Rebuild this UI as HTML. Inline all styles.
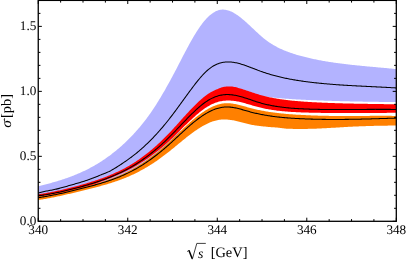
<!DOCTYPE html>
<html><head><meta charset="utf-8"><title>plot</title>
<style>
html,body{margin:0;padding:0;background:#fff;}
body{width:407px;height:262px;overflow:hidden;}
svg{display:block;will-change:transform;text-rendering:geometricPrecision;font-family:"Liberation Serif",serif;fill:#000;}
</style></head><body>
<svg width="407" height="262" viewBox="0 0 407 262">
<rect width="407" height="262" fill="#fff"/>
<path d="M38.25,186.17 L39.25,185.93 L40.25,185.69 L41.25,185.45 L42.25,185.21 L43.25,184.96 L44.25,184.71 L45.25,184.46 L46.25,184.20 L47.25,183.95 L48.25,183.68 L49.25,183.42 L50.25,183.15 L51.25,182.88 L52.25,182.60 L53.25,182.32 L54.25,182.04 L55.25,181.75 L56.25,181.46 L57.25,181.16 L58.25,180.86 L59.25,180.55 L60.25,180.24 L61.25,179.92 L62.25,179.60 L63.25,179.27 L64.25,178.93 L65.25,178.59 L66.25,178.25 L67.25,177.90 L68.25,177.54 L69.25,177.18 L70.25,176.81 L71.25,176.43 L72.25,176.05 L73.25,175.66 L74.25,175.26 L75.25,174.86 L76.25,174.44 L77.25,174.03 L78.25,173.60 L79.25,173.16 L80.25,172.72 L81.25,172.27 L82.25,171.82 L83.25,171.35 L84.25,170.88 L85.25,170.39 L86.25,169.90 L87.25,169.40 L88.25,168.89 L89.25,168.38 L90.25,167.85 L91.25,167.31 L92.25,166.77 L93.25,166.21 L94.25,165.64 L95.25,165.07 L96.25,164.48 L97.25,163.89 L98.25,163.28 L99.25,162.66 L100.25,162.04 L101.25,161.40 L102.25,160.75 L103.25,160.09 L104.25,159.42 L105.25,158.74 L106.25,158.04 L107.25,157.34 L108.25,156.62 L109.25,155.89 L110.25,155.15 L111.25,154.39 L112.25,153.62 L113.25,152.85 L114.25,152.05 L115.25,151.25 L116.25,150.43 L117.25,149.60 L118.25,148.76 L119.25,147.90 L120.25,147.03 L121.25,146.14 L122.25,145.24 L123.25,144.33 L124.25,143.40 L125.25,142.46 L126.25,141.50 L127.25,140.53 L128.25,139.55 L129.25,138.55 L130.25,137.53 L131.25,136.50 L132.25,135.46 L133.25,134.39 L134.25,133.31 L135.25,132.22 L136.25,131.11 L137.25,129.97 L138.25,128.82 L139.25,127.65 L140.25,126.47 L141.25,125.26 L142.25,124.03 L143.25,122.78 L144.25,121.51 L145.25,120.21 L146.25,118.90 L147.25,117.56 L148.25,116.20 L149.25,114.81 L150.25,113.40 L151.25,111.97 L152.25,110.51 L153.25,109.02 L154.25,107.51 L155.25,105.97 L156.25,104.41 L157.25,102.83 L158.25,101.22 L159.25,99.59 L160.25,97.94 L161.25,96.26 L162.25,94.57 L163.25,92.86 L164.25,91.13 L165.25,89.39 L166.25,87.62 L167.25,85.84 L168.25,84.05 L169.25,82.24 L170.25,80.41 L171.25,78.57 L172.25,76.71 L173.25,74.84 L174.25,72.95 L175.25,71.05 L176.25,69.14 L177.25,67.22 L178.25,65.29 L179.25,63.35 L180.25,61.42 L181.25,59.48 L182.25,57.55 L183.25,55.62 L184.25,53.70 L185.25,51.80 L186.25,49.90 L187.25,48.03 L188.25,46.17 L189.25,44.33 L190.25,42.52 L191.25,40.73 L192.25,38.97 L193.25,37.25 L194.25,35.56 L195.25,33.90 L196.25,32.29 L197.25,30.71 L198.25,29.19 L199.25,27.71 L200.25,26.28 L201.25,24.90 L202.25,23.57 L203.25,22.30 L204.25,21.09 L205.25,19.93 L206.25,18.82 L207.25,17.77 L208.25,16.79 L209.25,15.86 L210.25,14.99 L211.25,14.18 L212.25,13.44 L213.25,12.76 L214.25,12.14 L215.25,11.59 L216.25,11.10 L217.25,10.68 L218.25,10.33 L219.25,10.05 L220.25,9.84 L221.25,9.69 L222.25,9.62 L223.25,9.60 L224.25,9.65 L225.25,9.77 L226.25,9.94 L227.25,10.16 L228.25,10.44 L229.25,10.78 L230.25,11.16 L231.25,11.59 L232.25,12.07 L233.25,12.59 L234.25,13.15 L235.25,13.75 L236.25,14.39 L237.25,15.06 L238.25,15.77 L239.25,16.50 L240.25,17.27 L241.25,18.06 L242.25,18.88 L243.25,19.72 L244.25,20.57 L245.25,21.45 L246.25,22.34 L247.25,23.25 L248.25,24.17 L249.25,25.10 L250.25,26.03 L251.25,26.97 L252.25,27.92 L253.25,28.86 L254.25,29.80 L255.25,30.74 L256.25,31.68 L257.25,32.60 L258.25,33.52 L259.25,34.43 L260.25,35.32 L261.25,36.19 L262.25,37.05 L263.25,37.88 L264.25,38.70 L265.25,39.49 L266.25,40.25 L267.25,40.99 L268.25,41.70 L269.25,42.39 L270.25,43.06 L271.25,43.71 L272.25,44.33 L273.25,44.93 L274.25,45.51 L275.25,46.08 L276.25,46.62 L277.25,47.15 L278.25,47.66 L279.25,48.15 L280.25,48.63 L281.25,49.09 L282.25,49.53 L283.25,49.97 L284.25,50.38 L285.25,50.79 L286.25,51.19 L287.25,51.57 L288.25,51.95 L289.25,52.31 L290.25,52.67 L291.25,53.01 L292.25,53.35 L293.25,53.68 L294.25,54.01 L295.25,54.32 L296.25,54.63 L297.25,54.93 L298.25,55.22 L299.25,55.51 L300.25,55.79 L301.25,56.07 L302.25,56.33 L303.25,56.60 L304.25,56.85 L305.25,57.11 L306.25,57.35 L307.25,57.59 L308.25,57.83 L309.25,58.06 L310.25,58.29 L311.25,58.52 L312.25,58.73 L313.25,58.95 L314.25,59.16 L315.25,59.37 L316.25,59.57 L317.25,59.77 L318.25,59.97 L319.25,60.16 L320.25,60.35 L321.25,60.54 L322.25,60.72 L323.25,60.90 L324.25,61.08 L325.25,61.25 L326.25,61.42 L327.25,61.58 L328.25,61.75 L329.25,61.91 L330.25,62.06 L331.25,62.22 L332.25,62.37 L333.25,62.52 L334.25,62.66 L335.25,62.81 L336.25,62.95 L337.25,63.09 L338.25,63.22 L339.25,63.36 L340.25,63.49 L341.25,63.62 L342.25,63.74 L343.25,63.87 L344.25,63.99 L345.25,64.11 L346.25,64.23 L347.25,64.34 L348.25,64.46 L349.25,64.57 L350.25,64.68 L351.25,64.79 L352.25,64.90 L353.25,65.01 L354.25,65.11 L355.25,65.22 L356.25,65.32 L357.25,65.42 L358.25,65.52 L359.25,65.62 L360.25,65.72 L361.25,65.82 L362.25,65.91 L363.25,66.01 L364.25,66.10 L365.25,66.20 L366.25,66.29 L367.25,66.38 L368.25,66.47 L369.25,66.56 L370.25,66.66 L371.25,66.75 L372.25,66.84 L373.25,66.93 L374.25,67.02 L375.25,67.11 L376.25,67.20 L377.25,67.29 L378.25,67.38 L379.25,67.47 L380.25,67.56 L381.25,67.65 L382.25,67.74 L383.25,67.83 L384.25,67.92 L385.25,68.01 L386.25,68.11 L387.25,68.20 L388.25,68.29 L389.25,68.39 L390.25,68.48 L391.25,68.58 L392.25,68.68 L393.25,68.78 L394.25,68.88 L395.25,68.98 L396.30,69.09 L396.30,102.04 L395.25,102.03 L394.25,102.03 L393.25,102.02 L392.25,102.01 L391.25,102.00 L390.25,101.99 L389.25,101.98 L388.25,101.97 L387.25,101.96 L386.25,101.95 L385.25,101.94 L384.25,101.93 L383.25,101.92 L382.25,101.91 L381.25,101.90 L380.25,101.89 L379.25,101.88 L378.25,101.86 L377.25,101.85 L376.25,101.84 L375.25,101.83 L374.25,101.81 L373.25,101.80 L372.25,101.78 L371.25,101.77 L370.25,101.75 L369.25,101.74 L368.25,101.72 L367.25,101.71 L366.25,101.69 L365.25,101.67 L364.25,101.66 L363.25,101.64 L362.25,101.62 L361.25,101.60 L360.25,101.59 L359.25,101.57 L358.25,101.55 L357.25,101.53 L356.25,101.51 L355.25,101.49 L354.25,101.47 L353.25,101.45 L352.25,101.42 L351.25,101.40 L350.25,101.38 L349.25,101.36 L348.25,101.33 L347.25,101.31 L346.25,101.29 L345.25,101.26 L344.25,101.24 L343.25,101.21 L342.25,101.18 L341.25,101.16 L340.25,101.13 L339.25,101.10 L338.25,101.08 L337.25,101.05 L336.25,101.02 L335.25,100.99 L334.25,100.96 L333.25,100.93 L332.25,100.90 L331.25,100.87 L330.25,100.84 L329.25,100.81 L328.25,100.77 L327.25,100.74 L326.25,100.71 L325.25,100.67 L324.25,100.64 L323.25,100.60 L322.25,100.57 L321.25,100.53 L320.25,100.49 L319.25,100.46 L318.25,100.42 L317.25,100.38 L316.25,100.34 L315.25,100.30 L314.25,100.26 L313.25,100.22 L312.25,100.18 L311.25,100.14 L310.25,100.10 L309.25,100.05 L308.25,100.01 L307.25,99.96 L306.25,99.92 L305.25,99.87 L304.25,99.82 L303.25,99.77 L302.25,99.72 L301.25,99.67 L300.25,99.62 L299.25,99.57 L298.25,99.51 L297.25,99.45 L296.25,99.39 L295.25,99.33 L294.25,99.27 L293.25,99.21 L292.25,99.15 L291.25,99.08 L290.25,99.01 L289.25,98.94 L288.25,98.87 L287.25,98.79 L286.25,98.72 L285.25,98.64 L284.25,98.56 L283.25,98.48 L282.25,98.39 L281.25,98.31 L280.25,98.22 L279.25,98.13 L278.25,98.03 L277.25,97.94 L276.25,97.84 L275.25,97.74 L274.25,97.63 L273.25,97.53 L272.25,97.42 L271.25,97.30 L270.25,97.19 L269.25,97.07 L268.25,96.95 L267.25,96.83 L266.25,96.70 L265.25,96.62 L264.25,96.69 L263.25,96.88 L262.25,97.17 L261.25,97.61 L260.25,98.11 L259.25,98.60 L258.25,99.05 L257.25,99.45 L256.25,99.77 L255.25,100.00 L254.25,100.13 L253.25,100.16 L252.25,100.08 L251.25,99.90 L250.25,99.62 L249.25,99.28 L248.25,98.94 L247.25,98.61 L246.25,98.28 L245.25,97.95 L244.25,97.64 L243.25,97.33 L242.25,97.03 L241.25,96.74 L240.25,96.47 L239.25,96.20 L238.25,95.96 L237.25,95.73 L236.25,95.51 L235.25,95.32 L234.25,95.15 L233.25,94.99 L232.25,94.86 L231.25,94.75 L230.25,94.67 L229.25,94.61 L228.25,94.58 L227.25,94.57 L226.25,94.59 L225.25,94.64 L224.25,94.71 L223.25,94.82 L222.25,94.96 L221.25,95.13 L220.25,95.33 L219.25,95.56 L218.25,95.83 L217.25,96.13 L216.25,96.46 L215.25,96.83 L214.25,97.23 L213.25,97.66 L212.25,98.13 L211.25,98.63 L210.25,99.16 L209.25,99.73 L208.25,100.32 L207.25,100.94 L206.25,101.60 L205.25,102.28 L204.25,102.99 L203.25,103.73 L202.25,104.51 L201.25,105.31 L200.25,106.14 L199.25,106.99 L198.25,107.86 L197.25,108.76 L196.25,109.67 L195.25,110.61 L194.25,111.55 L193.25,112.51 L192.25,113.49 L191.25,114.47 L190.25,115.46 L189.25,116.45 L188.25,117.46 L187.25,118.57 L186.25,119.95 L185.25,121.56 L184.25,123.32 L183.25,125.18 L182.25,127.09 L181.25,128.98 L180.25,130.82 L179.25,132.54 L178.25,134.12 L177.25,135.50 L176.25,136.65 L175.25,137.61 L174.25,138.56 L173.25,139.51 L172.25,140.46 L171.25,141.40 L170.25,142.33 L169.25,143.26 L168.25,144.18 L167.25,145.09 L166.25,146.00 L165.25,146.89 L164.25,147.78 L163.25,148.65 L162.25,149.52 L161.25,150.37 L160.25,151.22 L159.25,152.05 L158.25,152.88 L157.25,153.69 L156.25,154.50 L155.25,155.29 L154.25,156.07 L153.25,156.85 L152.25,157.61 L151.25,158.36 L150.25,159.11 L149.25,159.84 L148.25,160.56 L147.25,161.27 L146.25,161.97 L145.25,162.67 L144.25,163.35 L143.25,164.02 L142.25,164.68 L141.25,165.33 L140.25,165.97 L139.25,166.59 L138.25,167.21 L137.25,167.82 L136.25,168.42 L135.25,169.00 L134.25,169.58 L133.25,170.15 L132.25,170.70 L131.25,171.25 L130.25,171.78 L129.25,172.30 L128.25,172.82 L127.25,173.32 L126.25,173.82 L125.25,174.30 L124.25,174.78 L123.25,175.24 L122.25,175.70 L121.25,176.15 L120.25,176.59 L119.25,177.02 L118.25,177.45 L117.25,177.86 L116.25,178.27 L115.25,178.67 L114.25,179.07 L113.25,179.45 L112.25,179.83 L111.25,180.21 L110.25,180.57 L109.25,180.93 L108.25,181.29 L107.25,181.64 L106.25,181.98 L105.25,182.32 L104.25,182.65 L103.25,182.97 L102.25,183.30 L101.25,183.61 L100.25,183.93 L99.25,184.24 L98.25,184.54 L97.25,184.84 L96.25,185.14 L95.25,185.43 L94.25,185.72 L93.25,186.01 L92.25,186.29 L91.25,186.57 L90.25,186.85 L89.25,187.13 L88.25,187.40 L87.25,187.68 L86.25,187.95 L85.25,188.22 L84.25,188.49 L83.25,188.75 L82.25,189.02 L81.25,189.28 L80.25,189.54 L79.25,189.80 L78.25,190.06 L77.25,190.32 L76.25,190.57 L75.25,190.82 L74.25,191.07 L73.25,191.32 L72.25,191.56 L71.25,191.81 L70.25,192.05 L69.25,192.29 L68.25,192.52 L67.25,192.76 L66.25,192.99 L65.25,193.22 L64.25,193.44 L63.25,193.66 L62.25,193.88 L61.25,194.10 L60.25,194.31 L59.25,194.53 L58.25,194.73 L57.25,194.94 L56.25,195.14 L55.25,195.34 L54.25,195.53 L53.25,195.72 L52.25,195.91 L51.25,196.09 L50.25,196.28 L49.25,196.45 L48.25,196.63 L47.25,196.79 L46.25,196.96 L45.25,197.12 L44.25,197.28 L43.25,197.43 L42.25,197.58 L41.25,197.73 L40.25,197.87 L39.25,198.00 L38.25,198.14Z" fill="#b3b3ff"/>
<path d="M38.25,193.03 L39.25,192.78 L40.25,192.54 L41.25,192.29 L42.25,192.05 L43.25,191.81 L44.25,191.57 L45.25,191.33 L46.25,191.11 L47.25,190.90 L48.25,190.70 L49.25,190.52 L50.25,190.33 L51.25,190.15 L52.25,189.97 L53.25,189.78 L54.25,189.57 L55.25,189.36 L56.25,189.13 L57.25,188.88 L58.25,188.63 L59.25,188.38 L60.25,188.11 L61.25,187.85 L62.25,187.57 L63.25,187.30 L64.25,187.02 L65.25,186.73 L66.25,186.45 L67.25,186.16 L68.25,185.87 L69.25,185.58 L70.25,185.29 L71.25,185.00 L72.25,184.72 L73.25,184.43 L74.25,184.14 L75.25,183.86 L76.25,183.57 L77.25,183.28 L78.25,182.99 L79.25,182.69 L80.25,182.39 L81.25,182.08 L82.25,181.77 L83.25,181.45 L84.25,181.13 L85.25,180.80 L86.25,180.47 L87.25,180.13 L88.25,179.78 L89.25,179.43 L90.25,179.08 L91.25,178.71 L92.25,178.34 L93.25,177.97 L94.25,177.58 L95.25,177.19 L96.25,176.80 L97.25,176.39 L98.25,175.98 L99.25,175.56 L100.25,175.14 L101.25,174.72 L102.25,174.32 L103.25,173.93 L104.25,173.54 L105.25,173.15 L106.25,172.75 L107.25,172.33 L108.25,171.88 L109.25,171.41 L110.25,170.91 L111.25,170.38 L112.25,169.82 L113.25,169.25 L114.25,168.66 L115.25,168.06 L116.25,167.44 L117.25,166.81 L118.25,166.16 L119.25,165.51 L120.25,164.85 L121.25,164.19 L122.25,163.51 L123.25,162.84 L124.25,162.17 L125.25,161.49 L126.25,160.81 L127.25,160.11 L128.25,159.40 L129.25,158.68 L130.25,157.95 L131.25,157.21 L132.25,156.45 L133.25,155.68 L134.25,154.90 L135.25,154.10 L136.25,153.29 L137.25,152.47 L138.25,151.64 L139.25,150.79 L140.25,149.93 L141.25,149.06 L142.25,148.17 L143.25,147.27 L144.25,146.36 L145.25,145.43 L146.25,144.49 L147.25,143.54 L148.25,142.57 L149.25,141.59 L150.25,140.60 L151.25,139.59 L152.25,138.56 L153.25,137.53 L154.25,136.47 L155.25,135.41 L156.25,134.33 L157.25,133.24 L158.25,132.13 L159.25,131.00 L160.25,129.87 L161.25,128.71 L162.25,127.55 L163.25,126.37 L164.25,125.17 L165.25,123.96 L166.25,122.73 L167.25,121.49 L168.25,120.23 L169.25,118.96 L170.25,117.68 L171.25,116.38 L172.25,115.07 L173.25,113.75 L174.25,112.42 L175.25,111.08 L176.25,109.73 L177.25,108.37 L178.25,107.01 L179.25,105.64 L180.25,104.27 L181.25,102.90 L182.25,101.53 L183.25,100.15 L184.25,98.77 L185.25,97.40 L186.25,96.02 L187.25,94.65 L188.25,93.28 L189.25,91.92 L190.25,90.56 L191.25,89.21 L192.25,87.87 L193.25,86.54 L194.25,85.23 L195.25,83.93 L196.25,82.66 L197.25,81.40 L198.25,80.17 L199.25,78.96 L200.25,77.78 L201.25,76.63 L202.25,75.51 L203.25,74.43 L204.25,73.39 L205.25,72.39 L206.25,71.43 L207.25,70.51 L208.25,69.64 L209.25,68.82 L210.25,68.05 L211.25,67.33 L212.25,66.66 L213.25,66.04 L214.25,65.48 L215.25,64.95 L216.25,64.48 L217.25,64.05 L218.25,63.66 L219.25,63.32 L220.25,63.02 L221.25,62.76 L222.25,62.54 L223.25,62.35 L224.25,62.21 L225.25,62.09 L226.25,62.02 L227.25,61.97 L228.25,61.96 L229.25,61.98 L230.25,62.02 L231.25,62.10 L232.25,62.20 L233.25,62.33 L234.25,62.48 L235.25,62.66 L236.25,62.85 L237.25,63.07 L238.25,63.31 L239.25,63.57 L240.25,63.84 L241.25,64.14 L242.25,64.44 L243.25,64.76 L244.25,65.09 L245.25,65.44 L246.25,65.79 L247.25,66.15 L248.25,66.52 L249.25,66.90 L250.25,67.28 L251.25,67.67 L252.25,68.06 L253.25,68.45 L254.25,68.84 L255.25,69.23 L256.25,69.61 L257.25,70.00 L258.25,70.38 L259.25,70.75 L260.25,71.12 L261.25,71.48 L262.25,71.84 L263.25,72.18 L264.25,72.52 L265.25,72.85 L266.25,73.18 L267.25,73.49 L268.25,73.80 L269.25,74.11 L270.25,74.41 L271.25,74.70 L272.25,74.98 L273.25,75.26 L274.25,75.54 L275.25,75.80 L276.25,76.06 L277.25,76.32 L278.25,76.57 L279.25,76.81 L280.25,77.05 L281.25,77.28 L282.25,77.51 L283.25,77.74 L284.25,77.95 L285.25,78.17 L286.25,78.37 L287.25,78.58 L288.25,78.78 L289.25,78.97 L290.25,79.16 L291.25,79.34 L292.25,79.53 L293.25,79.70 L294.25,79.88 L295.25,80.04 L296.25,80.21 L297.25,80.37 L298.25,80.53 L299.25,80.68 L300.25,80.83 L301.25,80.98 L302.25,81.13 L303.25,81.27 L304.25,81.41 L305.25,81.54 L306.25,81.68 L307.25,81.81 L308.25,81.94 L309.25,82.06 L310.25,82.18 L311.25,82.30 L312.25,82.42 L313.25,82.54 L314.25,82.65 L315.25,82.76 L316.25,82.87 L317.25,82.98 L318.25,83.08 L319.25,83.19 L320.25,83.29 L321.25,83.39 L322.25,83.48 L323.25,83.58 L324.25,83.67 L325.25,83.76 L326.25,83.85 L327.25,83.94 L328.25,84.02 L329.25,84.10 L330.25,84.19 L331.25,84.27 L332.25,84.35 L333.25,84.42 L334.25,84.50 L335.25,84.57 L336.25,84.65 L337.25,84.72 L338.25,84.79 L339.25,84.86 L340.25,84.92 L341.25,84.99 L342.25,85.06 L343.25,85.12 L344.25,85.18 L345.25,85.25 L346.25,85.31 L347.25,85.37 L348.25,85.43 L349.25,85.48 L350.25,85.54 L351.25,85.60 L352.25,85.65 L353.25,85.71 L354.25,85.76 L355.25,85.82 L356.25,85.87 L357.25,85.92 L358.25,85.97 L359.25,86.02 L360.25,86.07 L361.25,86.13 L362.25,86.18 L363.25,86.23 L364.25,86.27 L365.25,86.32 L366.25,86.37 L367.25,86.42 L368.25,86.47 L369.25,86.52 L370.25,86.57 L371.25,86.62 L372.25,86.66 L373.25,86.71 L374.25,86.76 L375.25,86.81 L376.25,86.86 L377.25,86.91 L378.25,86.96 L379.25,87.01 L380.25,87.06 L381.25,87.11 L382.25,87.16 L383.25,87.21 L384.25,87.27 L385.25,87.32 L386.25,87.37 L387.25,87.42 L388.25,87.48 L389.25,87.53 L390.25,87.59 L391.25,87.65 L392.25,87.71 L393.25,87.76 L394.25,87.82 L395.25,87.88 L396.30,87.95" fill="none" stroke="#000" stroke-width="1.05"/>
<path d="M38.25,194.34 L39.25,194.19 L40.25,194.02 L41.25,193.86 L42.25,193.69 L43.25,193.52 L44.25,193.35 L45.25,193.17 L46.25,192.99 L47.25,192.81 L48.25,192.62 L49.25,192.43 L50.25,192.24 L51.25,192.05 L52.25,191.85 L53.25,191.65 L54.25,191.44 L55.25,191.23 L56.25,191.02 L57.25,190.81 L58.25,190.59 L59.25,190.38 L60.25,190.15 L61.25,189.93 L62.25,189.70 L63.25,189.47 L64.25,189.23 L65.25,189.00 L66.25,188.76 L67.25,188.52 L68.25,188.27 L69.25,188.02 L70.25,187.77 L71.25,187.52 L72.25,187.26 L73.25,187.00 L74.25,186.74 L75.25,186.47 L76.25,186.21 L77.25,185.93 L78.25,185.66 L79.25,185.38 L80.25,185.11 L81.25,184.82 L82.25,184.54 L83.25,184.25 L84.25,183.96 L85.25,183.67 L86.25,183.38 L87.25,183.08 L88.25,182.78 L89.25,182.47 L90.25,182.17 L91.25,181.86 L92.25,181.54 L93.25,181.22 L94.25,180.90 L95.25,180.57 L96.25,180.24 L97.25,179.91 L98.25,179.57 L99.25,179.22 L100.25,178.87 L101.25,178.51 L102.25,178.15 L103.25,177.78 L104.25,177.40 L105.25,177.02 L106.25,176.64 L107.25,176.24 L108.25,175.84 L109.25,175.43 L110.25,175.02 L111.25,174.59 L112.25,174.16 L113.25,173.72 L114.25,173.27 L115.25,172.82 L116.25,172.36 L117.25,171.89 L118.25,171.42 L119.25,170.94 L120.25,170.45 L121.25,169.96 L122.25,169.45 L123.25,168.94 L124.25,168.42 L125.25,167.89 L126.25,167.35 L127.25,166.79 L128.25,166.23 L129.25,165.66 L130.25,165.07 L131.25,164.47 L132.25,163.86 L133.25,163.24 L134.25,162.60 L135.25,161.94 L136.25,161.28 L137.25,160.61 L138.25,159.92 L139.25,159.22 L140.25,158.52 L141.25,157.80 L142.25,157.07 L143.25,156.33 L144.25,155.58 L145.25,154.81 L146.25,154.04 L147.25,153.25 L148.25,152.46 L149.25,151.65 L150.25,150.83 L151.25,150.00 L152.25,149.15 L153.25,148.29 L154.25,147.43 L155.25,146.55 L156.25,145.66 L157.25,144.75 L158.25,143.84 L159.25,142.91 L160.25,141.97 L161.25,141.02 L162.25,140.06 L163.25,139.09 L164.25,138.10 L165.25,137.11 L166.25,136.10 L167.25,135.08 L168.25,134.04 L169.25,133.00 L170.25,131.94 L171.25,130.88 L172.25,129.80 L173.25,128.71 L174.25,127.62 L175.25,126.52 L176.25,125.41 L177.25,124.30 L178.25,123.19 L179.25,122.08 L180.25,120.96 L181.25,119.85 L182.25,118.73 L183.25,117.62 L184.25,116.52 L185.25,115.41 L186.25,114.32 L187.25,113.23 L188.25,112.16 L189.25,111.09 L190.25,110.03 L191.25,108.98 L192.25,107.94 L193.25,106.91 L194.25,105.89 L195.25,104.88 L196.25,103.89 L197.25,102.92 L198.25,101.97 L199.25,101.03 L200.25,100.13 L201.25,99.24 L202.25,98.38 L203.25,97.55 L204.25,96.76 L205.25,95.99 L206.25,95.25 L207.25,94.55 L208.25,93.87 L209.25,93.22 L210.25,92.61 L211.25,92.02 L212.25,91.48 L213.25,90.96 L214.25,90.48 L215.25,90.03 L216.25,89.59 L217.25,89.15 L218.25,88.73 L219.25,88.33 L220.25,87.95 L221.25,87.61 L222.25,87.31 L223.25,87.05 L224.25,86.85 L225.25,86.70 L226.25,86.60 L227.25,86.52 L228.25,86.47 L229.25,86.46 L230.25,86.47 L231.25,86.52 L232.25,86.59 L233.25,86.71 L234.25,86.88 L235.25,87.09 L236.25,87.33 L237.25,87.59 L238.25,87.88 L239.25,88.18 L240.25,88.49 L241.25,88.80 L242.25,89.11 L243.25,89.43 L244.25,89.75 L245.25,90.09 L246.25,90.42 L247.25,90.76 L248.25,91.10 L249.25,91.44 L250.25,91.77 L251.25,92.10 L252.25,92.43 L253.25,92.76 L254.25,93.09 L255.25,93.41 L256.25,93.73 L257.25,94.04 L258.25,94.35 L259.25,94.65 L260.25,94.94 L261.25,95.22 L262.25,95.49 L263.25,95.75 L264.25,96.01 L265.25,96.26 L266.25,96.50 L267.25,96.74 L268.25,96.96 L269.25,97.18 L270.25,97.40 L271.25,97.60 L272.25,97.80 L273.25,98.00 L274.25,98.18 L275.25,98.36 L276.25,98.54 L277.25,98.71 L278.25,98.87 L279.25,99.03 L280.25,99.18 L281.25,99.33 L282.25,99.47 L283.25,99.61 L284.25,99.74 L285.25,99.87 L286.25,99.99 L287.25,100.11 L288.25,100.23 L289.25,100.34 L290.25,100.44 L291.25,100.55 L292.25,100.65 L293.25,100.75 L294.25,100.84 L295.25,100.93 L296.25,101.02 L297.25,101.10 L298.25,101.18 L299.25,101.26 L300.25,101.34 L301.25,101.42 L302.25,101.49 L303.25,101.56 L304.25,101.63 L305.25,101.70 L306.25,101.76 L307.25,101.83 L308.25,101.89 L309.25,101.95 L310.25,102.01 L311.25,102.07 L312.25,102.13 L313.25,102.19 L314.25,102.24 L315.25,102.30 L316.25,102.35 L317.25,102.40 L318.25,102.45 L319.25,102.50 L320.25,102.55 L321.25,102.60 L322.25,102.64 L323.25,102.69 L324.25,102.73 L325.25,102.78 L326.25,102.82 L327.25,102.86 L328.25,102.90 L329.25,102.94 L330.25,102.97 L331.25,103.01 L332.25,103.05 L333.25,103.08 L334.25,103.11 L335.25,103.15 L336.25,103.18 L337.25,103.21 L338.25,103.24 L339.25,103.27 L340.25,103.30 L341.25,103.33 L342.25,103.36 L343.25,103.38 L344.25,103.41 L345.25,103.43 L346.25,103.46 L347.25,103.48 L348.25,103.51 L349.25,103.53 L350.25,103.55 L351.25,103.57 L352.25,103.60 L353.25,103.62 L354.25,103.64 L355.25,103.66 L356.25,103.68 L357.25,103.70 L358.25,103.71 L359.25,103.73 L360.25,103.75 L361.25,103.77 L362.25,103.79 L363.25,103.80 L364.25,103.82 L365.25,103.84 L366.25,103.85 L367.25,103.87 L368.25,103.88 L369.25,103.90 L370.25,103.92 L371.25,103.93 L372.25,103.95 L373.25,103.96 L374.25,103.98 L375.25,103.99 L376.25,104.01 L377.25,104.02 L378.25,104.04 L379.25,104.05 L380.25,104.07 L381.25,104.09 L382.25,104.10 L383.25,104.12 L384.25,104.13 L385.25,104.15 L386.25,104.16 L387.25,104.18 L388.25,104.20 L389.25,104.21 L390.25,104.23 L391.25,104.25 L392.25,104.27 L393.25,104.29 L394.25,104.30 L395.25,104.32 L396.30,104.34 L396.30,112.81 L395.25,112.82 L394.25,112.82 L393.25,112.83 L392.25,112.84 L391.25,112.84 L390.25,112.85 L389.25,112.86 L388.25,112.86 L387.25,112.87 L386.25,112.88 L385.25,112.88 L384.25,112.89 L383.25,112.90 L382.25,112.91 L381.25,112.91 L380.25,112.92 L379.25,112.93 L378.25,112.93 L377.25,112.94 L376.25,112.95 L375.25,112.96 L374.25,112.96 L373.25,112.97 L372.25,112.98 L371.25,112.98 L370.25,112.99 L369.25,113.00 L368.25,113.00 L367.25,113.01 L366.25,113.02 L365.25,113.02 L364.25,113.03 L363.25,113.03 L362.25,113.04 L361.25,113.04 L360.25,113.05 L359.25,113.05 L358.25,113.06 L357.25,113.06 L356.25,113.07 L355.25,113.07 L354.25,113.07 L353.25,113.08 L352.25,113.08 L351.25,113.08 L350.25,113.08 L349.25,113.08 L348.25,113.08 L347.25,113.08 L346.25,113.08 L345.25,113.08 L344.25,113.08 L343.25,113.08 L342.25,113.08 L341.25,113.08 L340.25,113.07 L339.25,113.07 L338.25,113.06 L337.25,113.06 L336.25,113.05 L335.25,113.05 L334.25,113.04 L333.25,113.03 L332.25,113.03 L331.25,113.02 L330.25,113.01 L329.25,113.00 L328.25,112.99 L327.25,112.98 L326.25,112.96 L325.25,112.95 L324.25,112.94 L323.25,112.92 L322.25,112.91 L321.25,112.89 L320.25,112.87 L319.25,112.86 L318.25,112.84 L317.25,112.82 L316.25,112.80 L315.25,112.78 L314.25,112.76 L313.25,112.73 L312.25,112.71 L311.25,112.68 L310.25,112.66 L309.25,112.63 L308.25,112.60 L307.25,112.57 L306.25,112.54 L305.25,112.51 L304.25,112.48 L303.25,112.45 L302.25,112.41 L301.25,112.38 L300.25,112.34 L299.25,112.30 L298.25,112.26 L297.25,112.21 L296.25,112.17 L295.25,112.12 L294.25,112.07 L293.25,112.01 L292.25,111.96 L291.25,111.90 L290.25,111.83 L289.25,111.77 L288.25,111.69 L287.25,111.62 L286.25,111.54 L285.25,111.46 L284.25,111.37 L283.25,111.28 L282.25,111.18 L281.25,111.08 L280.25,110.98 L279.25,110.87 L278.25,110.75 L277.25,110.63 L276.25,110.50 L275.25,110.37 L274.25,110.23 L273.25,110.09 L272.25,109.94 L271.25,109.78 L270.25,109.62 L269.25,109.44 L268.25,109.27 L267.25,109.08 L266.25,108.89 L265.25,108.69 L264.25,108.49 L263.25,108.27 L262.25,108.05 L261.25,107.82 L260.25,107.58 L259.25,107.33 L258.25,107.08 L257.25,106.81 L256.25,106.54 L255.25,106.26 L254.25,105.97 L253.25,105.68 L252.25,105.39 L251.25,105.09 L250.25,104.80 L249.25,104.50 L248.25,104.21 L247.25,103.92 L246.25,103.63 L245.25,103.35 L244.25,103.07 L243.25,102.80 L242.25,102.54 L241.25,102.30 L240.25,102.06 L239.25,101.84 L238.25,101.62 L237.25,101.43 L236.25,101.25 L235.25,101.09 L234.25,100.95 L233.25,100.82 L232.25,100.72 L231.25,100.64 L230.25,100.58 L229.25,100.54 L228.25,100.53 L227.25,100.54 L226.25,100.58 L225.25,100.64 L224.25,100.73 L223.25,100.85 L222.25,100.99 L221.25,101.16 L220.25,101.37 L219.25,101.60 L218.25,101.87 L217.25,102.16 L216.25,102.49 L215.25,102.85 L214.25,103.23 L213.25,103.65 L212.25,104.10 L211.25,104.58 L210.25,105.09 L209.25,105.63 L208.25,106.20 L207.25,106.80 L206.25,107.42 L205.25,108.08 L204.25,108.75 L203.25,109.46 L202.25,110.20 L201.25,110.96 L200.25,111.75 L199.25,112.56 L198.25,113.39 L197.25,114.24 L196.25,115.11 L195.25,115.99 L194.25,116.89 L193.25,117.80 L192.25,118.72 L191.25,119.64 L190.25,120.58 L189.25,121.52 L188.25,122.47 L187.25,123.43 L186.25,124.40 L185.25,125.37 L184.25,126.35 L183.25,127.34 L182.25,128.33 L181.25,129.32 L180.25,130.31 L179.25,131.30 L178.25,132.29 L177.25,133.28 L176.25,134.26 L175.25,135.25 L174.25,136.22 L173.25,137.19 L172.25,138.15 L171.25,139.10 L170.25,140.04 L169.25,140.97 L168.25,141.89 L167.25,142.80 L166.25,143.70 L165.25,144.59 L164.25,145.46 L163.25,146.32 L162.25,147.18 L161.25,148.02 L160.25,148.85 L159.25,149.67 L158.25,150.47 L157.25,151.27 L156.25,152.06 L155.25,152.84 L154.25,153.60 L153.25,154.36 L152.25,155.10 L151.25,155.83 L150.25,156.56 L149.25,157.27 L148.25,157.97 L147.25,158.67 L146.25,159.35 L145.25,160.02 L144.25,160.69 L143.25,161.34 L142.25,161.99 L141.25,162.62 L140.25,163.25 L139.25,163.87 L138.25,164.47 L137.25,165.07 L136.25,165.67 L135.25,166.25 L134.25,166.82 L133.25,167.39 L132.25,167.94 L131.25,168.48 L130.25,169.01 L129.25,169.53 L128.25,170.04 L127.25,170.54 L126.25,171.04 L125.25,171.53 L124.25,172.00 L123.25,172.48 L122.25,172.94 L121.25,173.40 L120.25,173.85 L119.25,174.30 L118.25,174.74 L117.25,175.18 L116.25,175.62 L115.25,176.05 L114.25,176.48 L113.25,176.90 L112.25,177.31 L111.25,177.72 L110.25,178.13 L109.25,178.52 L108.25,178.91 L107.25,179.30 L106.25,179.68 L105.25,180.06 L104.25,180.43 L103.25,180.82 L102.25,181.21 L101.25,181.60 L100.25,182.00 L99.25,182.39 L98.25,182.79 L97.25,183.17 L96.25,183.55 L95.25,183.93 L94.25,184.29 L93.25,184.65 L92.25,184.99 L91.25,185.33 L90.25,185.65 L89.25,185.96 L88.25,186.27 L87.25,186.56 L86.25,186.84 L85.25,187.12 L84.25,187.39 L83.25,187.65 L82.25,187.92 L81.25,188.18 L80.25,188.44 L79.25,188.70 L78.25,188.96 L77.25,189.22 L76.25,189.47 L75.25,189.72 L74.25,189.97 L73.25,190.22 L72.25,190.46 L71.25,190.71 L70.25,190.95 L69.25,191.19 L68.25,191.42 L67.25,191.66 L66.25,191.89 L65.25,192.12 L64.25,192.34 L63.25,192.56 L62.25,192.78 L61.25,193.00 L60.25,193.21 L59.25,193.43 L58.25,193.63 L57.25,193.84 L56.25,194.04 L55.25,194.24 L54.25,194.43 L53.25,194.62 L52.25,194.81 L51.25,194.99 L50.25,195.18 L49.25,195.35 L48.25,195.53 L47.25,195.69 L46.25,195.86 L45.25,196.02 L44.25,196.18 L43.25,196.33 L42.25,196.48 L41.25,196.63 L40.25,196.77 L39.25,196.90 L38.25,197.04Z" fill="#ff0000"/>
<path d="M38.25,195.86 L39.25,195.72 L40.25,195.58 L41.25,195.43 L42.25,195.28 L43.25,195.13 L44.25,194.97 L45.25,194.81 L46.25,194.65 L47.25,194.48 L48.25,194.30 L49.25,194.13 L50.25,193.95 L51.25,193.76 L52.25,193.58 L53.25,193.38 L54.25,193.19 L55.25,192.99 L56.25,192.79 L57.25,192.58 L58.25,192.37 L59.25,192.16 L60.25,191.95 L61.25,191.73 L62.25,191.50 L63.25,191.28 L64.25,191.05 L65.25,190.82 L66.25,190.58 L67.25,190.34 L68.25,190.10 L69.25,189.86 L70.25,189.61 L71.25,189.36 L72.25,189.11 L73.25,188.85 L74.25,188.59 L75.25,188.33 L76.25,188.06 L77.25,187.79 L78.25,187.52 L79.25,187.25 L80.25,186.97 L81.25,186.69 L82.25,186.41 L83.25,186.13 L84.25,185.84 L85.25,185.55 L86.25,185.26 L87.25,184.96 L88.25,184.67 L89.25,184.36 L90.25,184.06 L91.25,183.75 L92.25,183.44 L93.25,183.13 L94.25,182.81 L95.25,182.49 L96.25,182.16 L97.25,181.83 L98.25,181.50 L99.25,181.16 L100.25,180.82 L101.25,180.47 L102.25,180.11 L103.25,179.75 L104.25,179.39 L105.25,179.01 L106.25,178.64 L107.25,178.25 L108.25,177.86 L109.25,177.46 L110.25,177.06 L111.25,176.65 L112.25,176.23 L113.25,175.81 L114.25,175.38 L115.25,174.94 L116.25,174.49 L117.25,174.04 L118.25,173.59 L119.25,173.13 L120.25,172.66 L121.25,172.19 L122.25,171.71 L123.25,171.22 L124.25,170.72 L125.25,170.22 L126.25,169.70 L127.25,169.17 L128.25,168.64 L129.25,168.09 L130.25,167.54 L131.25,166.97 L132.25,166.39 L133.25,165.79 L134.25,165.19 L135.25,164.57 L136.25,163.94 L137.25,163.30 L138.25,162.65 L139.25,161.99 L140.25,161.32 L141.25,160.64 L142.25,159.95 L143.25,159.25 L144.25,158.54 L145.25,157.82 L146.25,157.09 L147.25,156.35 L148.25,155.59 L149.25,154.83 L150.25,154.05 L151.25,153.27 L152.25,152.47 L153.25,151.66 L154.25,150.84 L155.25,150.01 L156.25,149.17 L157.25,148.31 L158.25,147.45 L159.25,146.57 L160.25,145.69 L161.25,144.79 L162.25,143.88 L163.25,142.96 L164.25,142.02 L165.25,141.08 L166.25,140.13 L167.25,139.16 L168.25,138.18 L169.25,137.19 L170.25,136.19 L171.25,135.18 L172.25,134.16 L173.25,133.13 L174.25,132.10 L175.25,131.05 L176.25,130.01 L177.25,128.96 L178.25,127.90 L179.25,126.84 L180.25,125.79 L181.25,124.73 L182.25,123.68 L183.25,122.63 L184.25,121.58 L185.25,120.54 L186.25,119.51 L187.25,118.48 L188.25,117.46 L189.25,116.45 L190.25,115.46 L191.25,114.47 L192.25,113.49 L193.25,112.51 L194.25,111.55 L195.25,110.61 L196.25,109.67 L197.25,108.76 L198.25,107.86 L199.25,106.99 L200.25,106.14 L201.25,105.31 L202.25,104.51 L203.25,103.73 L204.25,102.99 L205.25,102.28 L206.25,101.60 L207.25,100.94 L208.25,100.32 L209.25,99.73 L210.25,99.16 L211.25,98.63 L212.25,98.13 L213.25,97.66 L214.25,97.23 L215.25,96.83 L216.25,96.46 L217.25,96.13 L218.25,95.83 L219.25,95.56 L220.25,95.33 L221.25,95.13 L222.25,94.96 L223.25,94.82 L224.25,94.71 L225.25,94.64 L226.25,94.59 L227.25,94.57 L228.25,94.58 L229.25,94.61 L230.25,94.67 L231.25,94.75 L232.25,94.86 L233.25,94.99 L234.25,95.15 L235.25,95.32 L236.25,95.51 L237.25,95.73 L238.25,95.96 L239.25,96.20 L240.25,96.47 L241.25,96.74 L242.25,97.03 L243.25,97.33 L244.25,97.64 L245.25,97.95 L246.25,98.28 L247.25,98.61 L248.25,98.94 L249.25,99.28 L250.25,99.62 L251.25,99.96 L252.25,100.30 L253.25,100.64 L254.25,100.98 L255.25,101.31 L256.25,101.63 L257.25,101.95 L258.25,102.26 L259.25,102.56 L260.25,102.85 L261.25,103.14 L262.25,103.41 L263.25,103.67 L264.25,103.93 L265.25,104.18 L266.25,104.41 L267.25,104.65 L268.25,104.87 L269.25,105.08 L270.25,105.29 L271.25,105.49 L272.25,105.68 L273.25,105.87 L274.25,106.04 L275.25,106.21 L276.25,106.38 L277.25,106.54 L278.25,106.69 L279.25,106.83 L280.25,106.97 L281.25,107.10 L282.25,107.23 L283.25,107.35 L284.25,107.47 L285.25,107.58 L286.25,107.69 L287.25,107.79 L288.25,107.89 L289.25,107.98 L290.25,108.07 L291.25,108.15 L292.25,108.23 L293.25,108.31 L294.25,108.38 L295.25,108.45 L296.25,108.51 L297.25,108.57 L298.25,108.63 L299.25,108.69 L300.25,108.74 L301.25,108.79 L302.25,108.84 L303.25,108.89 L304.25,108.93 L305.25,108.97 L306.25,109.01 L307.25,109.05 L308.25,109.09 L309.25,109.12 L310.25,109.15 L311.25,109.19 L312.25,109.22 L313.25,109.24 L314.25,109.27 L315.25,109.30 L316.25,109.32 L317.25,109.34 L318.25,109.36 L319.25,109.38 L320.25,109.40 L321.25,109.42 L322.25,109.44 L323.25,109.45 L324.25,109.46 L325.25,109.48 L326.25,109.49 L327.25,109.50 L328.25,109.51 L329.25,109.52 L330.25,109.52 L331.25,109.53 L332.25,109.53 L333.25,109.54 L334.25,109.54 L335.25,109.54 L336.25,109.55 L337.25,109.55 L338.25,109.55 L339.25,109.55 L340.25,109.55 L341.25,109.54 L342.25,109.54 L343.25,109.54 L344.25,109.54 L345.25,109.53 L346.25,109.53 L347.25,109.52 L348.25,109.52 L349.25,109.51 L350.25,109.51 L351.25,109.50 L352.25,109.49 L353.25,109.49 L354.25,109.48 L355.25,109.47 L356.25,109.47 L357.25,109.46 L358.25,109.45 L359.25,109.45 L360.25,109.44 L361.25,109.43 L362.25,109.42 L363.25,109.42 L364.25,109.41 L365.25,109.40 L366.25,109.40 L367.25,109.39 L368.25,109.39 L369.25,109.38 L370.25,109.37 L371.25,109.37 L372.25,109.37 L373.25,109.36 L374.25,109.36 L375.25,109.35 L376.25,109.35 L377.25,109.35 L378.25,109.35 L379.25,109.35 L380.25,109.35 L381.25,109.35 L382.25,109.35 L383.25,109.35 L384.25,109.36 L385.25,109.36 L386.25,109.36 L387.25,109.37 L388.25,109.38 L389.25,109.39 L390.25,109.39 L391.25,109.40 L392.25,109.41 L393.25,109.43 L394.25,109.44 L395.25,109.45 L396.30,109.47" fill="none" stroke="#000" stroke-width="1.05"/>
<path d="M38.25,196.64 L39.25,196.50 L40.25,196.37 L41.25,196.23 L42.25,196.08 L43.25,195.93 L44.25,195.78 L45.25,195.62 L46.25,195.46 L47.25,195.29 L48.25,195.13 L49.25,194.95 L50.25,194.78 L51.25,194.59 L52.25,194.41 L53.25,194.22 L54.25,194.03 L55.25,193.84 L56.25,193.64 L57.25,193.44 L58.25,193.23 L59.25,193.03 L60.25,192.81 L61.25,192.60 L62.25,192.38 L63.25,192.16 L64.25,191.94 L65.25,191.72 L66.25,191.49 L67.25,191.26 L68.25,191.02 L69.25,190.79 L70.25,190.55 L71.25,190.31 L72.25,190.06 L73.25,189.82 L74.25,189.57 L75.25,189.32 L76.25,189.07 L77.25,188.82 L78.25,188.56 L79.25,188.30 L80.25,188.04 L81.25,187.78 L82.25,187.52 L83.25,187.25 L84.25,186.99 L85.25,186.72 L86.25,186.45 L87.25,186.18 L88.25,185.90 L89.25,185.63 L90.25,185.35 L91.25,185.07 L92.25,184.79 L93.25,184.51 L94.25,184.22 L95.25,183.93 L96.25,183.64 L97.25,183.34 L98.25,183.04 L99.25,182.74 L100.25,182.43 L101.25,182.11 L102.25,181.80 L103.25,181.47 L104.25,181.15 L105.25,180.82 L106.25,180.48 L107.25,180.14 L108.25,179.79 L109.25,179.43 L110.25,179.07 L111.25,178.71 L112.25,178.33 L113.25,177.95 L114.25,177.57 L115.25,177.17 L116.25,176.77 L117.25,176.36 L118.25,175.95 L119.25,175.52 L120.25,175.09 L121.25,174.65 L122.25,174.20 L123.25,173.74 L124.25,173.28 L125.25,172.80 L126.25,172.32 L127.25,171.82 L128.25,171.32 L129.25,170.80 L130.25,170.28 L131.25,169.75 L132.25,169.20 L133.25,168.65 L134.25,168.08 L135.25,167.50 L136.25,166.92 L137.25,166.32 L138.25,165.71 L139.25,165.09 L140.25,164.47 L141.25,163.83 L142.25,163.18 L143.25,162.52 L144.25,161.85 L145.25,161.17 L146.25,160.47 L147.25,159.77 L148.25,159.06 L149.25,158.34 L150.25,157.61 L151.25,156.86 L152.25,156.11 L153.25,155.35 L154.25,154.57 L155.25,153.79 L156.25,153.00 L157.25,152.19 L158.25,151.38 L159.25,150.55 L160.25,149.72 L161.25,148.87 L162.25,148.02 L163.25,147.15 L164.25,146.28 L165.25,145.39 L166.25,144.50 L167.25,143.59 L168.25,142.68 L169.25,141.76 L170.25,140.83 L171.25,139.90 L172.25,138.96 L173.25,138.01 L174.25,137.06 L175.25,136.11 L176.25,135.16 L177.25,134.21 L178.25,133.25 L179.25,132.30 L180.25,131.35 L181.25,130.40 L182.25,129.45 L183.25,128.51 L184.25,127.57 L185.25,126.64 L186.25,125.72 L187.25,124.80 L188.25,123.90 L189.25,123.00 L190.25,122.11 L191.25,121.24 L192.25,120.37 L193.25,119.52 L194.25,118.68 L195.25,117.86 L196.25,117.06 L197.25,116.26 L198.25,115.49 L199.25,114.73 L200.25,114.00 L201.25,113.28 L202.25,112.58 L203.25,111.90 L204.25,111.24 L205.25,110.60 L206.25,109.98 L207.25,109.39 L208.25,108.82 L209.25,108.27 L210.25,107.75 L211.25,107.25 L212.25,106.78 L213.25,106.33 L214.25,105.91 L215.25,105.52 L216.25,105.16 L217.25,104.83 L218.25,104.52 L219.25,104.25 L220.25,104.01 L221.25,103.79 L222.25,103.61 L223.25,103.47 L224.25,103.35 L225.25,103.27 L226.25,103.23 L227.25,103.22 L228.25,103.23 L229.25,103.28 L230.25,103.35 L231.25,103.45 L232.25,103.57 L233.25,103.72 L234.25,103.88 L235.25,104.07 L236.25,104.27 L237.25,104.48 L238.25,104.72 L239.25,104.96 L240.25,105.21 L241.25,105.47 L242.25,105.74 L243.25,106.02 L244.25,106.30 L245.25,106.58 L246.25,106.86 L247.25,107.15 L248.25,107.42 L249.25,107.70 L250.25,107.97 L251.25,108.23 L252.25,108.49 L253.25,108.73 L254.25,108.98 L255.25,109.21 L256.25,109.44 L257.25,109.66 L258.25,109.88 L259.25,110.09 L260.25,110.30 L261.25,110.49 L262.25,110.69 L263.25,110.87 L264.25,111.06 L265.25,111.23 L266.25,111.41 L267.25,111.57 L268.25,111.73 L269.25,111.89 L270.25,112.04 L271.25,112.19 L272.25,112.33 L273.25,112.47 L274.25,112.60 L275.25,112.73 L276.25,112.85 L277.25,112.97 L278.25,113.09 L279.25,113.20 L280.25,113.31 L281.25,113.42 L282.25,113.52 L283.25,113.62 L284.25,113.71 L285.25,113.80 L286.25,113.89 L287.25,113.98 L288.25,114.06 L289.25,114.14 L290.25,114.22 L291.25,114.29 L292.25,114.36 L293.25,114.43 L294.25,114.50 L295.25,114.57 L296.25,114.63 L297.25,114.69 L298.25,114.75 L299.25,114.81 L300.25,114.87 L301.25,114.92 L302.25,114.97 L303.25,115.02 L304.25,115.07 L305.25,115.12 L306.25,115.17 L307.25,115.22 L308.25,115.26 L309.25,115.30 L310.25,115.35 L311.25,115.39 L312.25,115.42 L313.25,115.46 L314.25,115.50 L315.25,115.53 L316.25,115.57 L317.25,115.60 L318.25,115.63 L319.25,115.66 L320.25,115.69 L321.25,115.72 L322.25,115.74 L323.25,115.77 L324.25,115.79 L325.25,115.81 L326.25,115.83 L327.25,115.85 L328.25,115.87 L329.25,115.89 L330.25,115.91 L331.25,115.92 L332.25,115.94 L333.25,115.95 L334.25,115.96 L335.25,115.98 L336.25,115.99 L337.25,116.00 L338.25,116.00 L339.25,116.01 L340.25,116.02 L341.25,116.03 L342.25,116.03 L343.25,116.03 L344.25,116.04 L345.25,116.04 L346.25,116.04 L347.25,116.04 L348.25,116.04 L349.25,116.04 L350.25,116.04 L351.25,116.04 L352.25,116.03 L353.25,116.03 L354.25,116.02 L355.25,116.02 L356.25,116.01 L357.25,116.01 L358.25,116.00 L359.25,115.99 L360.25,115.98 L361.25,115.97 L362.25,115.96 L363.25,115.95 L364.25,115.94 L365.25,115.93 L366.25,115.92 L367.25,115.90 L368.25,115.89 L369.25,115.88 L370.25,115.86 L371.25,115.85 L372.25,115.83 L373.25,115.82 L374.25,115.80 L375.25,115.78 L376.25,115.77 L377.25,115.75 L378.25,115.73 L379.25,115.72 L380.25,115.70 L381.25,115.69 L382.25,115.69 L383.25,115.69 L384.25,115.71 L385.25,115.73 L386.25,115.75 L387.25,115.78 L388.25,115.80 L389.25,115.83 L390.25,115.85 L391.25,115.87 L392.25,115.89 L393.25,115.90 L394.25,115.90 L395.25,115.89 L396.30,115.87 L396.30,125.62 L395.25,125.61 L394.25,125.61 L393.25,125.61 L392.25,125.61 L391.25,125.61 L390.25,125.61 L389.25,125.62 L388.25,125.62 L387.25,125.63 L386.25,125.64 L385.25,125.65 L384.25,125.67 L383.25,125.68 L382.25,125.70 L381.25,125.71 L380.25,125.73 L379.25,125.75 L378.25,125.77 L377.25,125.80 L376.25,125.82 L375.25,125.84 L374.25,125.87 L373.25,125.90 L372.25,125.92 L371.25,125.95 L370.25,125.98 L369.25,126.01 L368.25,126.05 L367.25,126.08 L366.25,126.11 L365.25,126.15 L364.25,126.18 L363.25,126.22 L362.25,126.26 L361.25,126.30 L360.25,126.33 L359.25,126.37 L358.25,126.41 L357.25,126.45 L356.25,126.49 L355.25,126.54 L354.25,126.58 L353.25,126.62 L352.25,126.66 L351.25,126.71 L350.25,126.75 L349.25,126.80 L348.25,126.84 L347.25,126.90 L346.25,126.95 L345.25,127.01 L344.25,127.07 L343.25,127.13 L342.25,127.19 L341.25,127.26 L340.25,127.32 L339.25,127.38 L338.25,127.45 L337.25,127.51 L336.25,127.57 L335.25,127.63 L334.25,127.68 L333.25,127.74 L332.25,127.80 L331.25,127.86 L330.25,127.91 L329.25,127.97 L328.25,128.03 L327.25,128.08 L326.25,128.14 L325.25,128.20 L324.25,128.25 L323.25,128.30 L322.25,128.35 L321.25,128.40 L320.25,128.45 L319.25,128.50 L318.25,128.54 L317.25,128.59 L316.25,128.63 L315.25,128.66 L314.25,128.70 L313.25,128.73 L312.25,128.76 L311.25,128.79 L310.25,128.82 L309.25,128.84 L308.25,128.86 L307.25,128.88 L306.25,128.90 L305.25,128.91 L304.25,128.93 L303.25,128.94 L302.25,128.94 L301.25,128.95 L300.25,128.95 L299.25,128.95 L298.25,128.95 L297.25,128.94 L296.25,128.94 L295.25,128.92 L294.25,128.91 L293.25,128.89 L292.25,128.87 L291.25,128.85 L290.25,128.82 L289.25,128.79 L288.25,128.75 L287.25,128.70 L286.25,128.64 L285.25,128.55 L284.25,128.45 L283.25,128.34 L282.25,128.22 L281.25,128.10 L280.25,127.97 L279.25,127.85 L278.25,127.73 L277.25,127.61 L276.25,127.51 L275.25,127.43 L274.25,127.35 L273.25,127.28 L272.25,127.20 L271.25,127.13 L270.25,127.05 L269.25,126.97 L268.25,126.88 L267.25,126.79 L266.25,126.69 L265.25,126.59 L264.25,126.48 L263.25,126.38 L262.25,126.29 L261.25,126.19 L260.25,126.09 L259.25,125.98 L258.25,125.87 L257.25,125.74 L256.25,125.60 L255.25,125.44 L254.25,125.27 L253.25,125.08 L252.25,124.89 L251.25,124.68 L250.25,124.47 L249.25,124.25 L248.25,124.01 L247.25,123.77 L246.25,123.52 L245.25,123.26 L244.25,123.01 L243.25,122.74 L242.25,122.48 L241.25,122.22 L240.25,121.96 L239.25,121.70 L238.25,121.45 L237.25,121.21 L236.25,120.98 L235.25,120.77 L234.25,120.56 L233.25,120.37 L232.25,120.20 L231.25,120.04 L230.25,119.91 L229.25,119.79 L228.25,119.68 L227.25,119.59 L226.25,119.53 L225.25,119.48 L224.25,119.47 L223.25,119.48 L222.25,119.53 L221.25,119.60 L220.25,119.71 L219.25,119.85 L218.25,120.02 L217.25,120.21 L216.25,120.42 L215.25,120.67 L214.25,120.94 L213.25,121.24 L212.25,121.57 L211.25,121.93 L210.25,122.33 L209.25,122.75 L208.25,123.20 L207.25,123.67 L206.25,124.17 L205.25,124.68 L204.25,125.21 L203.25,125.77 L202.25,126.34 L201.25,126.93 L200.25,127.54 L199.25,128.16 L198.25,128.81 L197.25,129.47 L196.25,130.14 L195.25,130.83 L194.25,131.53 L193.25,132.25 L192.25,132.98 L191.25,133.72 L190.25,134.47 L189.25,135.24 L188.25,136.01 L187.25,136.79 L186.25,137.58 L185.25,138.38 L184.25,139.18 L183.25,139.99 L182.25,140.81 L181.25,141.63 L180.25,142.45 L179.25,143.27 L178.25,144.10 L177.25,144.92 L176.25,145.75 L175.25,146.58 L174.25,147.40 L173.25,148.22 L172.25,149.04 L171.25,149.85 L170.25,150.66 L169.25,151.47 L168.25,152.26 L167.25,153.05 L166.25,153.83 L165.25,154.61 L164.25,155.37 L163.25,156.12 L162.25,156.87 L161.25,157.60 L160.25,158.32 L159.25,159.04 L158.25,159.75 L157.25,160.44 L156.25,161.13 L155.25,161.81 L154.25,162.48 L153.25,163.14 L152.25,163.79 L151.25,164.43 L150.25,165.06 L149.25,165.68 L148.25,166.30 L147.25,166.90 L146.25,167.50 L145.25,168.08 L144.25,168.66 L143.25,169.22 L142.25,169.78 L141.25,170.33 L140.25,170.87 L139.25,171.40 L138.25,171.92 L137.25,172.44 L136.25,172.94 L135.25,173.44 L134.25,173.92 L133.25,174.40 L132.25,174.86 L131.25,175.32 L130.25,175.77 L129.25,176.21 L128.25,176.65 L127.25,177.07 L126.25,177.49 L125.25,177.90 L124.25,178.30 L123.25,178.69 L122.25,179.08 L121.25,179.46 L120.25,179.83 L119.25,180.20 L118.25,180.55 L117.25,180.91 L116.25,181.26 L115.25,181.60 L114.25,181.93 L113.25,182.26 L112.25,182.59 L111.25,182.91 L110.25,183.22 L109.25,183.53 L108.25,183.83 L107.25,184.13 L106.25,184.43 L105.25,184.72 L104.25,185.01 L103.25,185.30 L102.25,185.58 L101.25,185.85 L100.25,186.13 L99.25,186.40 L98.25,186.67 L97.25,186.93 L96.25,187.20 L95.25,187.46 L94.25,187.72 L93.25,187.98 L92.25,188.23 L91.25,188.49 L90.25,188.74 L89.25,188.99 L88.25,189.24 L87.25,189.50 L86.25,189.75 L85.25,190.00 L84.25,190.24 L83.25,190.49 L82.25,190.74 L81.25,190.99 L80.25,191.24 L79.25,191.48 L78.25,191.73 L77.25,191.97 L76.25,192.22 L75.25,192.46 L74.25,192.70 L73.25,192.94 L72.25,193.18 L71.25,193.42 L70.25,193.65 L69.25,193.89 L68.25,194.12 L67.25,194.35 L66.25,194.58 L65.25,194.81 L64.25,195.04 L63.25,195.26 L62.25,195.49 L61.25,195.71 L60.25,195.92 L59.25,196.14 L58.25,196.35 L57.25,196.56 L56.25,196.77 L55.25,196.98 L54.25,197.18 L53.25,197.38 L52.25,197.58 L51.25,197.77 L50.25,197.96 L49.25,198.15 L48.25,198.34 L47.25,198.52 L46.25,198.70 L45.25,198.88 L44.25,199.05 L43.25,199.22 L42.25,199.38 L41.25,199.54 L40.25,199.70 L39.25,199.86 L38.25,200.01Z" fill="#ff8000"/>
<path d="M38.25,197.69 L39.25,197.53 L40.25,197.38 L41.25,197.22 L42.25,197.06 L43.25,196.89 L44.25,196.72 L45.25,196.55 L46.25,196.37 L47.25,196.19 L48.25,196.01 L49.25,195.83 L50.25,195.64 L51.25,195.45 L52.25,195.25 L53.25,195.05 L54.25,194.85 L55.25,194.65 L56.25,194.44 L57.25,194.24 L58.25,194.02 L59.25,193.81 L60.25,193.60 L61.25,193.38 L62.25,193.16 L63.25,192.93 L64.25,192.71 L65.25,192.48 L66.25,192.25 L67.25,192.02 L68.25,191.78 L69.25,191.55 L70.25,191.31 L71.25,191.07 L72.25,190.83 L73.25,190.59 L74.25,190.34 L75.25,190.10 L76.25,189.85 L77.25,189.60 L78.25,189.35 L79.25,189.10 L80.25,188.84 L81.25,188.59 L82.25,188.33 L83.25,188.07 L84.25,187.82 L85.25,187.56 L86.25,187.30 L87.25,187.03 L88.25,186.77 L89.25,186.51 L90.25,186.24 L91.25,185.97 L92.25,185.70 L93.25,185.43 L94.25,185.16 L95.25,184.88 L96.25,184.60 L97.25,184.32 L98.25,184.03 L99.25,183.74 L100.25,183.45 L101.25,183.15 L102.25,182.85 L103.25,182.54 L104.25,182.23 L105.25,181.92 L106.25,181.59 L107.25,181.27 L108.25,180.94 L109.25,180.60 L110.25,180.26 L111.25,179.91 L112.25,179.56 L113.25,179.20 L114.25,178.83 L115.25,178.46 L116.25,178.07 L117.25,177.69 L118.25,177.29 L119.25,176.89 L120.25,176.48 L121.25,176.06 L122.25,175.63 L123.25,175.19 L124.25,174.75 L125.25,174.30 L126.25,173.83 L127.25,173.36 L128.25,172.88 L129.25,172.39 L130.25,171.89 L131.25,171.38 L132.25,170.86 L133.25,170.33 L134.25,169.79 L135.25,169.23 L136.25,168.67 L137.25,168.10 L138.25,167.51 L139.25,166.92 L140.25,166.32 L141.25,165.70 L142.25,165.08 L143.25,164.44 L144.25,163.80 L145.25,163.14 L146.25,162.48 L147.25,161.80 L148.25,161.11 L149.25,160.42 L150.25,159.71 L151.25,158.99 L152.25,158.27 L153.25,157.53 L154.25,156.78 L155.25,156.02 L156.25,155.25 L157.25,154.48 L158.25,153.69 L159.25,152.89 L160.25,152.08 L161.25,151.26 L162.25,150.43 L163.25,149.59 L164.25,148.74 L165.25,147.88 L166.25,147.01 L167.25,146.14 L168.25,145.25 L169.25,144.35 L170.25,143.45 L171.25,142.54 L172.25,141.62 L173.25,140.71 L174.25,139.78 L175.25,138.86 L176.25,137.93 L177.25,137.00 L178.25,136.07 L179.25,135.14 L180.25,134.21 L181.25,133.29 L182.25,132.37 L183.25,131.45 L184.25,130.54 L185.25,129.63 L186.25,128.73 L187.25,127.84 L188.25,126.95 L189.25,126.08 L190.25,125.21 L191.25,124.36 L192.25,123.52 L193.25,122.69 L194.25,121.88 L195.25,121.07 L196.25,120.29 L197.25,119.52 L198.25,118.77 L199.25,118.03 L200.25,117.31 L201.25,116.61 L202.25,115.93 L203.25,115.27 L204.25,114.63 L205.25,114.01 L206.25,113.41 L207.25,112.84 L208.25,112.28 L209.25,111.75 L210.25,111.25 L211.25,110.77 L212.25,110.31 L213.25,109.88 L214.25,109.48 L215.25,109.11 L216.25,108.76 L217.25,108.44 L218.25,108.15 L219.25,107.89 L220.25,107.66 L221.25,107.47 L222.25,107.30 L223.25,107.17 L224.25,107.06 L225.25,107.00 L226.25,106.96 L227.25,106.96 L228.25,106.99 L229.25,107.05 L230.25,107.13 L231.25,107.24 L232.25,107.37 L233.25,107.52 L234.25,107.70 L235.25,107.89 L236.25,108.10 L237.25,108.32 L238.25,108.56 L239.25,108.81 L240.25,109.07 L241.25,109.34 L242.25,109.62 L243.25,109.90 L244.25,110.19 L245.25,110.48 L246.25,110.76 L247.25,111.05 L248.25,111.33 L249.25,111.61 L250.25,111.89 L251.25,112.15 L252.25,112.41 L253.25,112.66 L254.25,112.91 L255.25,113.15 L256.25,113.38 L257.25,113.60 L258.25,113.82 L259.25,114.03 L260.25,114.24 L261.25,114.44 L262.25,114.63 L263.25,114.82 L264.25,115.00 L265.25,115.18 L266.25,115.35 L267.25,115.52 L268.25,115.68 L269.25,115.83 L270.25,115.98 L271.25,116.13 L272.25,116.27 L273.25,116.40 L274.25,116.54 L275.25,116.66 L276.25,116.78 L277.25,116.90 L278.25,117.02 L279.25,117.13 L280.25,117.23 L281.25,117.33 L282.25,117.43 L283.25,117.52 L284.25,117.62 L285.25,117.70 L286.25,117.79 L287.25,117.87 L288.25,117.94 L289.25,118.02 L290.25,118.09 L291.25,118.16 L292.25,118.23 L293.25,118.29 L294.25,118.35 L295.25,118.41 L296.25,118.47 L297.25,118.52 L298.25,118.57 L299.25,118.63 L300.25,118.67 L301.25,118.72 L302.25,118.77 L303.25,118.81 L304.25,118.85 L305.25,118.90 L306.25,118.93 L307.25,118.97 L308.25,119.01 L309.25,119.04 L310.25,119.08 L311.25,119.11 L312.25,119.14 L313.25,119.16 L314.25,119.19 L315.25,119.22 L316.25,119.24 L317.25,119.26 L318.25,119.28 L319.25,119.30 L320.25,119.32 L321.25,119.34 L322.25,119.36 L323.25,119.37 L324.25,119.38 L325.25,119.39 L326.25,119.41 L327.25,119.41 L328.25,119.42 L329.25,119.43 L330.25,119.44 L331.25,119.44 L332.25,119.44 L333.25,119.45 L334.25,119.45 L335.25,119.45 L336.25,119.45 L337.25,119.44 L338.25,119.44 L339.25,119.44 L340.25,119.43 L341.25,119.43 L342.25,119.42 L343.25,119.41 L344.25,119.40 L345.25,119.39 L346.25,119.38 L347.25,119.37 L348.25,119.36 L349.25,119.34 L350.25,119.33 L351.25,119.31 L352.25,119.30 L353.25,119.28 L354.25,119.26 L355.25,119.25 L356.25,119.23 L357.25,119.21 L358.25,119.19 L359.25,119.17 L360.25,119.15 L361.25,119.12 L362.25,119.10 L363.25,119.08 L364.25,119.05 L365.25,119.03 L366.25,119.00 L367.25,118.98 L368.25,118.95 L369.25,118.92 L370.25,118.90 L371.25,118.87 L372.25,118.84 L373.25,118.81 L374.25,118.78 L375.25,118.76 L376.25,118.73 L377.25,118.70 L378.25,118.67 L379.25,118.64 L380.25,118.60 L381.25,118.57 L382.25,118.54 L383.25,118.51 L384.25,118.48 L385.25,118.45 L386.25,118.41 L387.25,118.38 L388.25,118.35 L389.25,118.32 L390.25,118.28 L391.25,118.25 L392.25,118.22 L393.25,118.18 L394.25,118.15 L395.25,118.12 L396.30,118.08" fill="none" stroke="#000" stroke-width="1.05"/>
<path d="M38.25,221.30 v-3.60 M38.25,0.40 v3.60 M60.63,221.30 v-2.20 M60.63,0.40 v2.20 M83.01,221.30 v-2.20 M83.01,0.40 v2.20 M105.38,221.30 v-2.20 M105.38,0.40 v2.20 M127.76,221.30 v-3.60 M127.76,0.40 v3.60 M150.14,221.30 v-2.20 M150.14,0.40 v2.20 M172.52,221.30 v-2.20 M172.52,0.40 v2.20 M194.90,221.30 v-2.20 M194.90,0.40 v2.20 M217.28,221.30 v-3.60 M217.28,0.40 v3.60 M239.65,221.30 v-2.20 M239.65,0.40 v2.20 M262.03,221.30 v-2.20 M262.03,0.40 v2.20 M284.41,221.30 v-2.20 M284.41,0.40 v2.20 M306.79,221.30 v-3.60 M306.79,0.40 v3.60 M329.17,221.30 v-2.20 M329.17,0.40 v2.20 M351.54,221.30 v-2.20 M351.54,0.40 v2.20 M373.92,221.30 v-2.20 M373.92,0.40 v2.20 M396.30,221.30 v-3.60 M396.30,0.40 v3.60 M38.25,221.30 h3.60 M396.30,221.30 h-3.60 M38.25,208.31 h2.20 M396.30,208.31 h-2.20 M38.25,195.31 h2.20 M396.30,195.31 h-2.20 M38.25,182.32 h2.20 M396.30,182.32 h-2.20 M38.25,169.32 h2.20 M396.30,169.32 h-2.20 M38.25,156.33 h3.60 M396.30,156.33 h-3.60 M38.25,143.34 h2.20 M396.30,143.34 h-2.20 M38.25,130.34 h2.20 M396.30,130.34 h-2.20 M38.25,117.35 h2.20 M396.30,117.35 h-2.20 M38.25,104.35 h2.20 M396.30,104.35 h-2.20 M38.25,91.36 h3.60 M396.30,91.36 h-3.60 M38.25,78.36 h2.20 M396.30,78.36 h-2.20 M38.25,65.37 h2.20 M396.30,65.37 h-2.20 M38.25,52.38 h2.20 M396.30,52.38 h-2.20 M38.25,39.38 h2.20 M396.30,39.38 h-2.20 M38.25,26.39 h3.60 M396.30,26.39 h-3.60 M38.25,13.39 h2.20 M396.30,13.39 h-2.20 M38.25,0.40 h2.20 M396.30,0.40 h-2.20" fill="none" stroke="#000" stroke-width="1.0"/>
<rect x="38.25" y="0.40" width="358.05" height="220.90" fill="none" stroke="#000" stroke-width="1.3"/>
<text x="38.25" y="234.1" text-anchor="middle" font-size="13.2">340</text>
<text x="127.76" y="234.1" text-anchor="middle" font-size="13.2">342</text>
<text x="217.28" y="234.1" text-anchor="middle" font-size="13.2">344</text>
<text x="306.79" y="234.1" text-anchor="middle" font-size="13.2">346</text>
<text x="396.30" y="234.1" text-anchor="middle" font-size="13.2">348</text>
<text x="36.3" y="224.70" text-anchor="end" font-size="13.2">0.0</text>
<text x="36.3" y="159.73" text-anchor="end" font-size="13.2">0.5</text>
<text x="36.3" y="94.76" text-anchor="end" font-size="13.2">1.0</text>
<text x="36.3" y="29.79" text-anchor="end" font-size="13.2">1.5</text>
<text x="198.0" y="257.6" font-size="13.8" font-style="italic">s</text>
<text x="210.7" y="257.1" font-size="14.4">[GeV]</text>
<g fill="none" stroke="#000"><path d="M187.1,251.6 L188.9,250.4" stroke-width="0.7"/><path d="M188.9,250.3 L192.2,258.6" stroke-width="1.5"/><path d="M192.3,259.3 L196.8,243.4 H205.8" stroke-width="0.75"/></g>
<g transform="translate(10.9,127.3) rotate(-90)" font-size="14.4"><text transform="translate(-0.46,0) scale(1.08,1)" font-style="italic">σ</text><path d="M7.0,-6.35 H9.15" fill="none" stroke="#000" stroke-width="0.75"/><text x="9.3" y="0">[pb]</text></g>
</svg>
</body></html>
